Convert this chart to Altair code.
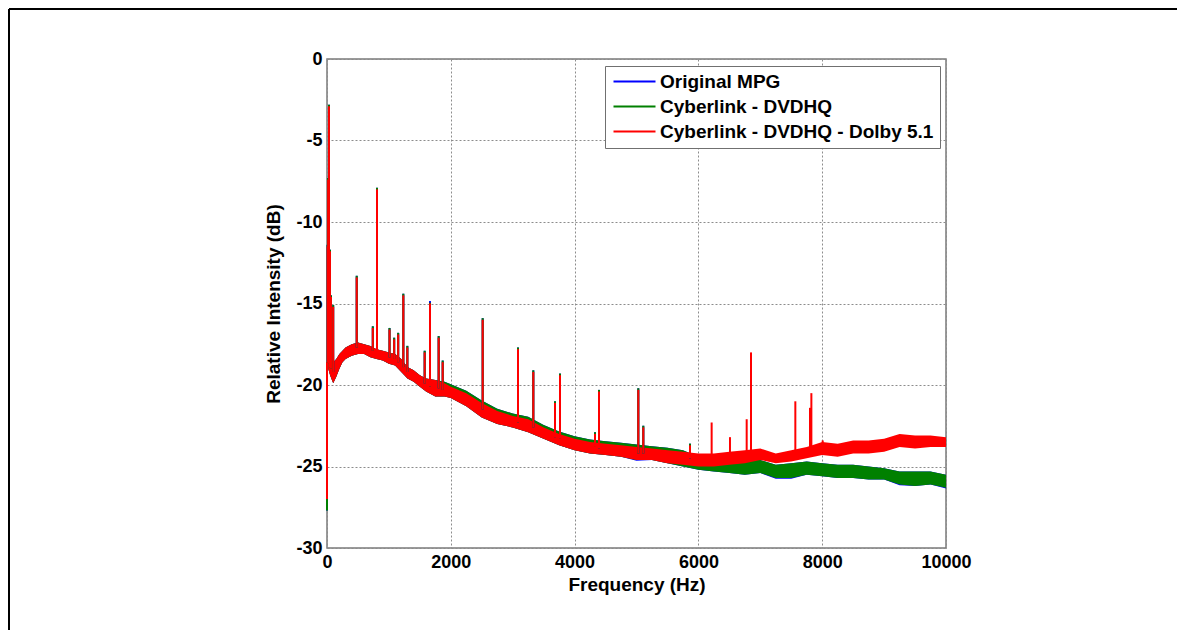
import altair as alt
import pandas as pd

FONT = "Liberation Sans"

series_names = ["Original MPG", "Cyberlink - DVDHQ", "Cyberlink - DVDHQ - Dolby 5.1"]
series_colors = ["#0000ff", "#008000", "#ff0000"]

x_ticks = [0, 2000, 4000, 6000, 8000, 10000]
y_ticks = [-30, -25, -20, -15, -10, -5, 0]

# noise band of each spectrum (upper / lower edge, dB)
band_freq = [20, 50, 100, 150, 200, 250, 300, 400, 500, 600, 700, 800, 900, 1000,
             1100, 1200, 1300, 1400, 1500, 1600, 1750, 1900, 2000, 2250, 2500, 2750,
             3000, 3250, 3500, 3750, 4000, 4250, 4500, 4750, 5000, 5250, 5500, 5750,
             6000, 6250, 6500, 6750, 7000, 7250, 7500, 7750, 8000, 8250, 8500, 8750,
             9000, 9250, 9500, 9750, 10000]

dolby_upper = [-18.2, -18.4, -18.6, -18.4, -18.1, -17.9, -17.7, -17.5, -17.4, -17.5, -17.6, -17.8, -17.9, -18.0,
               -18.1, -18.4, -18.9, -19.1, -19.4, -19.6, -19.7, -19.9, -20.1, -20.5, -21.1, -21.6,
               -21.9, -22.1, -22.6, -23.0, -23.3, -23.5, -23.6, -23.7, -23.8, -23.9, -24.0, -24.1,
               -24.2, -24.2, -24.1, -24.0, -23.9, -24.2, -24.0, -23.8, -23.5, -23.6, -23.4, -23.4,
               -23.3, -23.0, -23.1, -23.1, -23.2]
dolby_lower = [-19.0, -19.4, -19.9, -19.5, -19.0, -18.6, -18.4, -18.2, -18.1, -18.1, -18.3, -18.4, -18.5, -18.7,
               -18.8, -19.2, -19.6, -19.8, -20.1, -20.4, -20.7, -20.7, -20.8, -21.3, -22.0, -22.4,
               -22.6, -22.9, -23.3, -23.7, -24.0, -24.2, -24.3, -24.4, -24.6, -24.6, -24.8, -24.9,
               -25.0, -25.0, -24.9, -24.8, -24.6, -24.8, -24.7, -24.5, -24.3, -24.4, -24.2, -24.2,
               -24.1, -23.8, -23.9, -23.8, -23.8]

dvdhq_upper = [-18.2, -18.4, -18.6, -18.4, -18.1, -17.9, -17.7, -17.5, -17.4, -17.5, -17.6, -17.8, -17.9, -18.0,
               -18.1, -18.4, -18.9, -19.1, -19.4, -19.6, -19.7, -19.8, -19.95, -20.35, -20.95, -21.45,
               -21.75, -21.95, -22.45, -22.85, -23.15, -23.35, -23.45, -23.55, -23.65, -23.75, -23.85, -24.0,
               -24.4, -24.5, -24.6, -24.6, -24.6, -24.9, -24.8, -24.7, -24.8, -24.9, -24.9, -25.0,
               -25.1, -25.3, -25.3, -25.3, -25.5]
dvdhq_lower = [-19.0, -19.4, -19.9, -19.5, -19.0, -18.6, -18.4, -18.2, -18.1, -18.1, -18.3, -18.4, -18.5, -18.7,
               -18.8, -19.2, -19.6, -19.8, -20.1, -20.4, -20.7, -20.7, -20.8, -21.3, -22.0, -22.4,
               -22.6, -22.9, -23.3, -23.7, -24.0, -24.2, -24.3, -24.4, -24.6, -24.6, -24.8, -25.0,
               -25.2, -25.3, -25.4, -25.5, -25.4, -25.7, -25.7, -25.5, -25.6, -25.7, -25.7, -25.8,
               -25.8, -26.1, -26.2, -26.1, -26.3]

original_upper = [-18.2, -18.4, -18.6, -18.4, -18.1, -17.9, -17.7, -17.5, -17.4, -17.5, -17.6, -17.8, -17.9, -18.0,
                  -18.1, -18.4, -18.9, -19.1, -19.4, -19.6, -19.7, -19.8, -19.95, -20.35, -20.95, -21.45,
                  -21.75, -21.95, -22.45, -22.85, -23.15, -23.35, -23.45, -23.55, -23.65, -23.75, -23.85, -24.0,
                  -24.4, -24.5, -24.6, -24.6, -24.6, -24.9, -24.8, -24.7, -24.8, -24.9, -24.9, -25.0,
                  -25.1, -25.3, -25.3, -25.3, -25.5]
original_lower = [-19.0, -19.4, -19.9, -19.5, -19.0, -18.6, -18.4, -18.2, -18.1, -18.1, -18.3, -18.4, -18.5, -18.7,
                  -18.8, -19.2, -19.6, -19.8, -20.1, -20.4, -20.7, -20.7, -20.8, -21.3, -22.0, -22.4,
                  -22.6, -22.9, -23.3, -23.7, -24.0, -24.2, -24.3, -24.4, -24.65, -24.6, -24.8, -25.0,
                  -25.2, -25.3, -25.4, -25.5, -25.4, -25.75, -25.75, -25.5, -25.6, -25.7, -25.7, -25.8,
                  -25.8, -26.15, -26.2, -26.1, -26.35]

# narrow spectral lines (frequency, peak dB, foot dB)
spike_freq = [0, 10, 18, 32, 48, 64, 100, 480, 740, 808, 1010, 1085, 1150, 1233, 1298,
              1578, 1664, 1804, 1869, 2515, 3086, 3333, 3683, 3764, 4330, 4394, 5029, 5110,
              5864, 6214, 6510, 6780, 6850, 7566, 7803, 7825, 8008]
spike_base = [-18.6, -18.6, -18.6, -18.7, -18.9, -19.0, -19.2, -17.7, -17.9, -18.1, -18.3, -18.4, -18.6, -18.9, -19.2,
              -19.9, -20.1, -20.2, -20.3, -21.5, -22.3, -22.6, -23.2, -23.3, -23.8, -23.9, -24.2, -24.2,
              -24.5, -24.6, -24.5, -24.4, -24.3, -24.3, -24.1, -24.1, -23.9]
dolby_peak = [-27.0, -11.5, -7.4, -2.9, -11.8, -14.6, -15.2, -13.4, -16.5, -8.0, -16.6, -17.2, -16.9, -14.5, -17.7,
              -18.0, -15.0, -17.1, -18.6, -16.0, -17.8, -19.2, -21.1, -19.4, -23.0, -20.4, -20.3, -22.6,
              -23.7, -22.3, -23.2, -22.1, -18.0, -21.0, -21.4, -20.5, -23.4]
dvdhq_peak = [-27.7, -11.4, -7.3, -2.8, -11.7, -14.5, -15.1, -13.3, -16.4, -7.9, -16.5, -17.1, -16.8, -14.4, -17.6,
              -17.9, -14.95, -17.0, -18.5, -15.9, -17.7, -19.1, -21.0, -19.3, -22.9, -20.3, -20.2, -22.5,
              -23.6, None, None, None, None, None, None, None, None]
original_peak = [-27.7, -11.4, -7.3, -2.8, -11.7, -14.5, -15.1, -13.3, -16.4, -7.9, -16.5, -17.1, -16.8, -14.4, -17.6,
                 -17.9, -14.85, -17.0, -18.5, -15.9, -17.7, -19.1, -21.0, -19.3, -22.9, -20.3, -20.2, -22.5,
                 -23.6, None, None, None, None, None, None, None, None]


def band_df(upper, lower):
    return pd.DataFrame({"freq": band_freq, "upper": upper, "lower": lower})


rows = []
for name, peaks in zip(series_names, [original_peak, dvdhq_peak, dolby_peak]):
    for f, p, b in zip(spike_freq, peaks, spike_base):
        if p is not None:
            rows.append({"series": name, "freq": f, "peak": p, "base": b})
spikes = pd.DataFrame(rows)

xs = alt.Scale(domain=[0, 10000], nice=False, zero=False)
ys = alt.Scale(domain=[-30, 0], nice=False, zero=False)

x_axis = alt.Axis(values=x_ticks, title="Frequency (Hz)", labelFlush=False, labelPadding=5,
                  ticks=False, domain=False, grid=True, titlePadding=4,
                  labelExpr="'' + datum.value")
y_axis = alt.Axis(values=y_ticks, title="Relative Intensity (dB)", labelFlush=False, labelPadding=5,
                  ticks=False, domain=False, grid=True, titlePadding=12,
                  labelExpr="'' + datum.value")

X = alt.X("freq:Q", scale=xs, axis=x_axis)


def area(df, color):
    return alt.Chart(df).mark_area(color=color, opacity=1).encode(
        x=X,
        y=alt.Y("lower:Q", scale=ys, axis=y_axis),
        y2="upper:Q",
    )


blue_band = area(band_df(original_upper, original_lower), series_colors[0])
green_band = area(band_df(dvdhq_upper, dvdhq_lower), series_colors[1])
red_band = area(band_df(dolby_upper, dolby_lower), series_colors[2])

spike_layer = alt.Chart(spikes).mark_rule(strokeWidth=2).encode(
    x=X,
    y=alt.Y("peak:Q", scale=ys, axis=y_axis),
    y2="base:Q",
    color=alt.Color(
        "series:N",
        scale=alt.Scale(domain=series_names, range=series_colors),
        legend=alt.Legend(
            title=None, orient="none", legendX=278, legendY=7,
            symbolType="M-4.2,0H4.2", symbolSize=100, symbolStrokeWidth=2,
            symbolOffset=14, labelOffset=16,
            labelFont=FONT, labelFontSize=19, labelFontWeight="bold", labelColor="black",
            labelLimit=500, padding=6, rowPadding=5,
            strokeColor="#707070", fillColor="white",
        ),
    ),
)

one = pd.DataFrame({"k": [0]})
frame_top = alt.Chart(one).mark_rule(color="black", strokeWidth=2).encode(
    x=alt.value(-318), x2=alt.value(850), y=alt.value(-50))
frame_left = alt.Chart(one).mark_rule(color="black", strokeWidth=2).encode(
    x=alt.value(-318), y=alt.value(-50), y2=alt.value(571))

chart = alt.layer(frame_top, frame_left, blue_band, green_band, red_band, spike_layer).properties(
    width=619, height=489,
    background="white",
    autosize=alt.AutoSizeParams(type="none"),
    padding={"left": 319, "top": 51, "right": 231, "bottom": 82},
).configure_view(
    stroke="#7a7a7a", strokeWidth=1.5,
).configure_axis(
    labelFont=FONT, labelFontSize=18, labelFontWeight="bold", labelColor="black",
    titleFont=FONT, titleFontSize=19, titleFontWeight="bold", titleColor="black",
    gridColor="#8c8c8c", gridDash=[2, 2], gridWidth=1, gridOpacity=1,
)

chart.save("out.html", embed_options={"renderer": "svg", "actions": False})
